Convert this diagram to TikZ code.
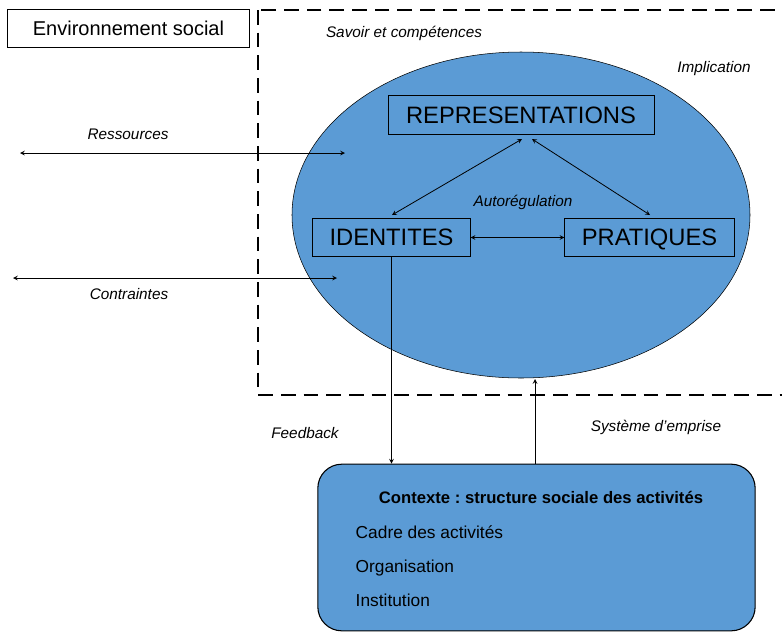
\documentclass[tikz,border=0pt]{standalone}
\usepackage{fontspec}
\setmainfont{Liberation Sans}
\usepackage{xcolor}
\usetikzlibrary{shapes, arrows, positioning, calc}
\definecolor{ovalblue}{RGB}{91,155,213}
\frenchspacing
\tikzset{
    bloc/.style={rectangle, draw, semithick, minimum height=29pt, inner sep=2pt, text height=12.5pt, text depth=0pt, font=\fontsize{17.8}{19}\selectfont},
    lbl/.style={font=\fontsize{11.5}{13}\selectfont\itshape},
    ctxline/.style={anchor=west, text height=9.5pt, text depth=3pt, font=\fontsize{13}{15}\selectfont},
    arrow/.style={->, >=stealth, semithick},
    darrow/.style={<->, >=stealth, semithick}
}
\begin{document}
\begin{tikzpicture}[x=0.75pt, y=-0.75pt]
    \useasboundingbox (0,0) rectangle (782,633);

    % Environnement
    \node[rectangle, draw, semithick, minimum width=182pt, minimum height=28pt, font=\fontsize{15}{17}\selectfont] (env) at (128.5,28.5) {Environnement social};
    \draw[dashed, line width=1.4pt, dash pattern=on 11pt off 6pt] (258,10) rectangle (800,395);

    % Ellipse
    \node[ellipse, draw, fill=ovalblue, minimum width=343.5pt, minimum height=244.5pt] (cercle) at (521,215) {};
    \node[lbl] (savoir) at (404,33) {Savoir et compétences};
    \node[lbl] (impl) at (714,69) {Implication};

    % Boxes
    \node[bloc, minimum width=199.5pt] (repr) at (521,115) {REPRESENTATIONS};
    \node[bloc, minimum width=118pt] (ident) at (391.5,237.5) {IDENTITES};
    \node[bloc, minimum width=127pt] (prat) at (649.5,237.5) {PRATIQUES};
    \node[lbl] (autoreg) at (523,202) {Autorégulation};

    \coordinate (r1) at (522,139);
    \coordinate (r2) at (532,139);
    \draw[darrow] (r1) -- (392,215);
    \draw[darrow] (r2) -- (650,215);
    \draw[darrow] (ident.east) -- (prat.west);

    % Environnement arrows
    \coordinate (res0) at (20,153);
    \coordinate (res1) at (345,153);
    \coordinate (con0) at (13,278);
    \coordinate (con1) at (337,278);
    \draw[darrow] (res0) -- (res1);
    \draw[darrow] (con0) -- (con1);
    \node[lbl] (ress) at (128,134) {Ressources};
    \node[lbl] (contr) at (129,294) {Contraintes};

    % Contexte
    \node[rectangle, rounded corners=18pt, draw, thick, fill=ovalblue, minimum width=328pt, minimum height=125pt] (ctx) at (536.5,547.5) {};
    \node[font=\fontsize{12.5}{15}\selectfont\bfseries] (ctxtitle) at (541,497) {Contexte : structure sociale des activités};
    \node[ctxline] (cadre) at (351,534) {Cadre des activités};
    \node[ctxline] (orga) at (351,568) {Organisation};
    \node[ctxline] (inst) at (351,602) {Institution};

    \coordinate (emp) at (535,464);
    \draw[arrow] (ident.south) -- (ident.south |- ctx.north);
    \draw[arrow] (emp) -- (535,379);
    \node[lbl] (feed) at (305,433) {Feedback};
    \node[lbl] (syst) at (656,427) {Système d'emprise};
\end{tikzpicture}
\end{document}
